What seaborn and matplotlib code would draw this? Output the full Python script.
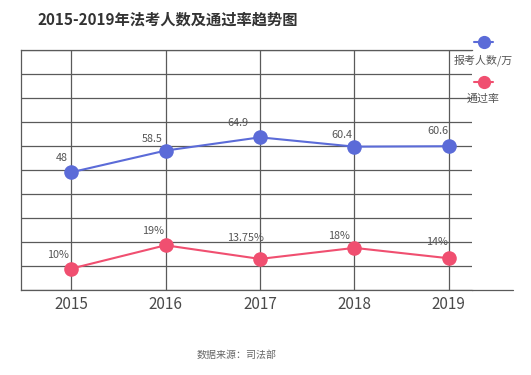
import matplotlib
matplotlib.use("Agg")
import matplotlib.pyplot as plt
from matplotlib.lines import Line2D
import seaborn as sns
import numpy as np
import pandas as pd

years = ["2015", "2016", "2017", "2018", "2019"]
applicants = [48, 58.5, 64.9, 60.4, 60.6]          # 报考人数/万
pass_rate = [10, 19, 13.75, 18, 14]                  # 通过率 %
applicant_labels = ["48", "58.5", "64.9", "60.4", "60.6"]
rate_labels = ["10%", "19%", "13.75%", "18%", "14%"]

title = "2015-2019年法考人数及通过率趋势图"
legend_names = ["报考人数/万", "通过率"]
source = "数据来源：司法部"

BLUE = "#5b6bd8"
RED = "#f04f70"
GRID = "#5a5a5a"
FONT = ["Noto Sans CJK SC", "DejaVu Sans"]

sns.set_theme(style="white")
plt.rcParams["font.family"] = FONT

W, H = 531, 375
fig = plt.figure(figsize=(W / 100, H / 100), dpi=100)
fig.patch.set_facecolor("white")

def fx(px):
    return px / W

def fy(py):
    return 1 - py / H

ax = fig.add_axes([fx(21), fy(290), fx(472) - fx(21), (290 - 50) / H])
ax2 = ax.twinx()

df = pd.DataFrame({"year": years, "applicants": applicants, "rate": pass_rate})

sns.lineplot(data=df, x="year", y="applicants", ax=ax, color=BLUE, linewidth=1.5,
             marker="o", markersize=10.5, markeredgewidth=0, sort=False, zorder=5)
sns.lineplot(data=df, x="year", y="rate", ax=ax2, color=RED, linewidth=1.5,
             marker="o", markersize=10.5, markeredgewidth=0, sort=False, zorder=5)

ax.set_xlim(-0.53, 4.245)
ylo, yhi = -8.86, 107.1
ax.set_ylim(ylo, yhi)
ax2.set_ylim(1.8, 94.1)

ax.set_yticks(np.linspace(ylo, yhi, 11))
ax.set_yticklabels([])
ax.set_xticks(range(len(years)))
ax.set_xticklabels(years)
ax.grid(True, color=GRID, linewidth=0.9)
ax.tick_params(axis="y", length=0)
ax.tick_params(axis="x", length=0, pad=4, labelsize=11, colors="#4a4a4a")
ax.set_xlabel("")
ax.set_ylabel("")
ax2.set_ylabel("")
ax2.set_yticks([])
for a in (ax, ax2):
    a.spines["right"].set_visible(False)
for s in ("top", "bottom", "left"):
    ax2.spines[s].set_visible(False)
for s in ("top", "bottom", "left"):
    ax.spines[s].set_color(GRID)
    ax.spines[s].set_linewidth(0.9)
ax.set_axisbelow(True)

# extra extension of the bottom axis line
fig.add_artist(Line2D([fx(472), fx(513)], [fy(290), fy(290)], color=GRID, linewidth=0.9))

blue_off = [(-9, -14), (-13, -12), (-22, -14), (-13, -12), (-11, -15)]
red_off = [(-13, -14), (-12, -14), (-14, -21), (-15, -12), (-12, -16)]
for i, (v, lab) in enumerate(zip(applicants, applicant_labels)):
    dx, dy = blue_off[i]
    ax.annotate(lab, (i, v), xytext=(dx * 0.72, -dy * 0.72), textcoords="offset points",
                ha="center", va="center", fontsize=7.8, color="#555555", zorder=6)
for i, (v, lab) in enumerate(zip(pass_rate, rate_labels)):
    dx, dy = red_off[i]
    ax2.annotate(lab, (i, v), xytext=(dx * 0.72, -dy * 0.72), textcoords="offset points",
                 ha="center", va="center", fontsize=7.8, color="#555555", zorder=6)

# legend drawn as figure elements (marker above text)
for (ym, yt, col, name) in [(42, 60, BLUE, legend_names[0]), (82, 99, RED, legend_names[1])]:
    fig.add_artist(Line2D([fx(474), fx(493)], [fy(ym), fy(ym)], color=col, linewidth=1.5))
    fig.add_artist(Line2D([fx(483.5)], [fy(ym)], color=col, marker="o", markersize=9.5,
                          markeredgewidth=0, linestyle="none"))
    fig.text(fx(483.5), fy(yt), name, ha="center", va="center", fontsize=7.9, color="#555555")

fig.text(fx(37), fy(20), title, ha="left", va="center", fontsize=11, fontweight="bold",
         color="#333333")
fig.text(fx(237), fy(355), source, ha="center", va="center", fontsize=7.2, color="#666666")

fig.savefig("out.png", dpi=100, facecolor="white")
